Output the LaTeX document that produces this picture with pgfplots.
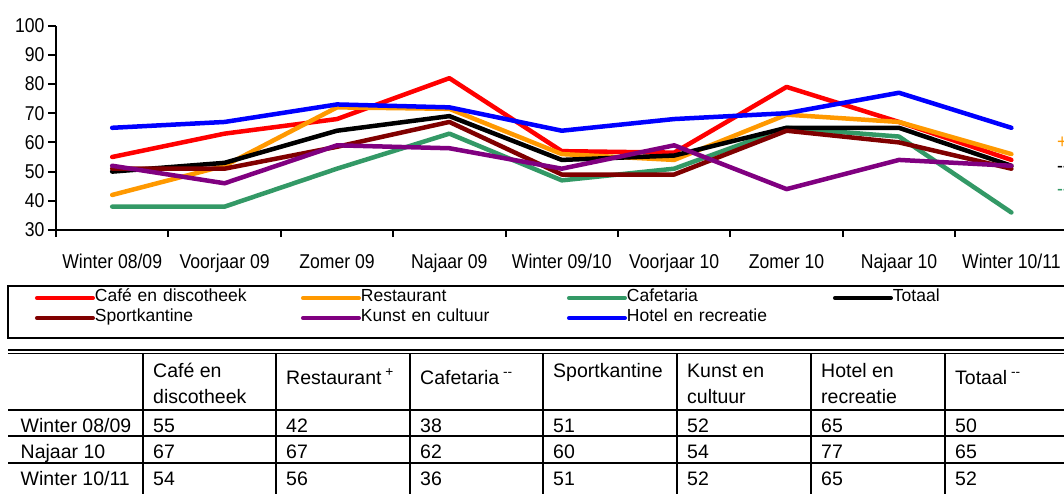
\documentclass[border=0pt]{standalone}
\usepackage{pgfplots}
\pgfplotsset{compat=1.18}
\usepackage{fontspec}
\setmainfont{Liberation Sans}
\newfontfamily\chartfont{Liberation Sans}[FakeStretch=0.88]
\definecolor{cRed}{HTML}{FF0000}
\definecolor{cOrange}{HTML}{FF9900}
\definecolor{cGreen}{HTML}{339966}
\definecolor{cDark}{HTML}{800000}
\definecolor{cPurple}{HTML}{800080}
\definecolor{cBlue}{HTML}{0000FF}
\newcommand{\tabfont}{\fontsize{19.5}{23}\selectfont}
\newcommand{\axfont}{\chartfont\fontsize{20}{24}\selectfont}
\newcommand{\legfont}{\fontsize{17.5}{20}\selectfont}
\begin{document}
\begin{tikzpicture}[x=1pt,y=1pt]
\begin{axis}[
  at={(56pt,263pt)}, anchor=south west, scale only axis,
  width=1011.6pt, height=204.4pt,
  xmin=0, xmax=9, ymin=30, ymax=100,
  axis x line*=bottom, axis y line*=left,
  axis line style={line width=2pt, -},
  x axis line style={-}, y axis line style={-},
  ytick={30,40,...,100},
  xtick={0.5,1.5,...,8.5},
  xticklabels={Winter 08/09, Voorjaar 09, Zomer 09, Najaar 09, Winter 09/10, Voorjaar 10, Zomer 10, Najaar 10, Winter 10/11},
  minor xtick={0,...,9},
  major x tick style={draw=none},
  tick align=outside, major tick length=8pt, minor tick length=7pt,
  tick style={line width=2pt, black},
  /pgf/number format/assume math mode=true,
  yticklabel style={font=\axfont},
  xticklabel style={font=\axfont, anchor=base, yshift=-30pt},
  clip=false,
  every axis plot/.append style={line width=4.5pt, line join=round, line cap=round},
  legend columns=4,
  legend cell align=left,
  legend image code/.code={\draw[line width=4pt, line cap=round] (0pt,0pt) -- (56pt,0pt);},
  legend style={at={(-0.0208,-0.28376)}, anchor=north west, draw=none, fill=none,
    inner sep=0pt, outer sep=0pt, row sep=0pt, font=\legfont,
    nodes={inner sep=0pt, text height=13pt, text depth=7pt, text width=206pt, align=left},
    /tikz/every odd column/.append style={column sep=0pt},
    /tikz/every even column/.append style={column sep=0pt}},
]
\addplot[cRed] coordinates {(0.5,55)(1.5,63)(2.5,68)(3.5,82)(4.5,57)(5.5,56.5)(6.5,79)(7.5,67)(8.5,54)};
\addlegendentry{Café en discotheek}
\addplot[cOrange] coordinates {(0.5,42)(1.5,52)(2.5,72)(3.5,71.5)(4.5,56)(5.5,54)(6.5,69.5)(7.5,67)(8.5,56)};
\addlegendentry{Restaurant}
\addplot[cGreen] coordinates {(0.5,38)(1.5,38)(2.5,51)(3.5,63)(4.5,47)(5.5,51)(6.5,65)(7.5,62)(8.5,36)};
\addlegendentry{Cafetaria}
\addplot[black] coordinates {(0.5,50)(1.5,53)(2.5,64)(3.5,69)(4.5,54)(5.5,55.5)(6.5,65)(7.5,65)(8.5,52)};
\addlegendentry{Totaal}
\addplot[cDark] coordinates {(0.5,51)(1.5,51)(2.5,58.5)(3.5,67)(4.5,49)(5.5,49)(6.5,64)(7.5,60)(8.5,51)};
\addlegendentry{Sportkantine}
\addplot[cPurple] coordinates {(0.5,52)(1.5,46)(2.5,59)(3.5,58)(4.5,51)(5.5,59)(6.5,44)(7.5,54)(8.5,52)};
\addlegendentry{Kunst en cultuur}
\addplot[cBlue] coordinates {(0.5,65)(1.5,67)(2.5,73)(3.5,72)(4.5,64)(5.5,68)(6.5,70)(7.5,77)(8.5,65)};
\addlegendentry{Hotel en recreatie}
\node[anchor=west, inner sep=0pt, text=cOrange, font=\axfont] at (axis cs:8.905,59.8) {+};
\node[anchor=west, inner sep=0pt, text=black, font=\axfont] at (axis cs:8.905,50.9) {-{}-};
\node[anchor=west, inner sep=0pt, text=cGreen, font=\axfont] at (axis cs:8.905,42.7) {-{}-};
\end{axis}
% legend frame
\draw[line width=2.5pt] (8,207) rectangle (1120,155);
% table lines
\draw[line width=2pt] (8,143) -- (1120,143);
\draw[line width=1pt] (8,139.5) -- (1120,139.5);
\foreach \yy in {83,57,30} {\draw[line width=2pt] (8,\yy) -- (1120,\yy);}
\foreach \xx in {143,276,410,543,677,811,945,1078} {\draw[line width=2.2pt] (\xx,139.5) -- (\xx,-5);}
% table header
\begin{scope}[every node/.style={anchor=base west, inner sep=0pt, font=\tabfont}]
\node at (153,116) {Café en};
\node at (153,90) {discotheek};
\node at (286,109) {Restaurant\textsuperscript{ +}};
\node at (420,109) {Cafetaria\textsuperscript{ -{}-}};
\node at (553,116) {Sportkantine};
\node at (687,116) {Kunst en};
\node at (687,90) {cultuur};
\node at (821,116) {Hotel en};
\node at (821,90) {recreatie};
\node at (955,109) {Totaal\textsuperscript{ -{}-}};
% rows
\node at (20.5,61) {Winter 08/09};
\node at (20.5,35) {Najaar 10};
\node at (20.5,8) {Winter 10/11};
\node at (153,61) {55}; \node at (286,61) {42}; \node at (420,61) {38}; \node at (553,61) {51};
\node at (687,61) {52}; \node at (821,61) {65}; \node at (955,61) {50};
\node at (153,35) {67}; \node at (286,35) {67}; \node at (420,35) {62}; \node at (553,35) {60};
\node at (687,35) {54}; \node at (821,35) {77}; \node at (955,35) {65};
\node at (153,8) {54}; \node at (286,8) {56}; \node at (420,8) {36}; \node at (553,8) {51};
\node at (687,8) {52}; \node at (821,8) {65}; \node at (955,8) {52};
\end{scope}
\pgfresetboundingbox
\useasboundingbox (0,0) rectangle (1064,493);
\end{tikzpicture}
\end{document}
